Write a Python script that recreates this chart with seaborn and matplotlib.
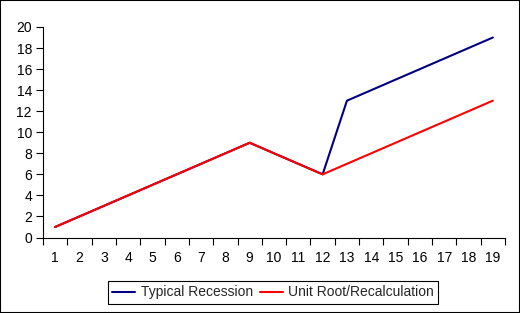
import numpy as np
import pandas as pd
import matplotlib
matplotlib.use("Agg")
import matplotlib.pyplot as plt
import seaborn as sns
from matplotlib.patches import Rectangle

# 데이터
periods = list(range(1, 20))
typical_recession = [1, 2, 3, 4, 5, 6, 7, 8, 9, 8, 7, 6, 13, 14, 15, 16, 17, 18, 19]
unit_root = [1, 2, 3, 4, 5, 6, 7, 8, 9, 8, 7, 6, 7, 8, 9, 10, 11, 12, 13]
series_names = ["Typical Recession", "Unit Root/Recalculation"]

df = pd.DataFrame({
    "period": periods * 2,
    "value": typical_recession + unit_root,
    "series": [series_names[0]] * len(periods) + [series_names[1]] * len(periods),
})

sns.set_style("white")
plt.rcParams["font.family"] = ["Liberation Sans", "DejaVu Sans"]

fig = plt.figure(figsize=(5.2, 3.13), dpi=100)
ax = fig.add_axes([43 / 520, 1 - 237.5 / 313, 462 / 520, 210.5 / 313])

sns.lineplot(data=df, x="period", y="value", hue="series",
             palette={series_names[0]: "#000080", series_names[1]: "#FF0000"},
             linewidth=1.5, ax=ax, legend=False)

ax.set_xlim(0.5, 19.5)
ax.set_ylim(0, 20)
ax.set_yticks(range(0, 21, 2))
ax.set_xticks(periods)
ax.set_xticks(np.arange(0.5, 20, 1), minor=True)
ax.set_xlabel("")
ax.set_ylabel("")

ax.tick_params(axis="x", which="major", length=0, pad=10, labelsize=10, colors="black")
ax.tick_params(axis="x", which="minor", length=5, width=0.8, color="black", bottom=True)
ax.tick_params(axis="y", length=5, width=0.8, pad=3, labelsize=10, colors="black", left=True)

for side in ["top", "right"]:
    ax.spines[side].set_visible(False)
for side in ["left", "bottom"]:
    ax.spines[side].set_color("black")
    ax.spines[side].set_linewidth(0.8)

# 범례
handles = [plt.Line2D([], [], color="#000080", lw=1.5),
           plt.Line2D([], [], color="#FF0000", lw=1.5)]
leg = fig.legend(handles, series_names, loc="center", bbox_to_anchor=(0.525, 0.0655),
                 ncol=2, fontsize=10, fancybox=False, framealpha=1,
                 handlelength=1.65, handletextpad=0.4, columnspacing=0.5,
                 borderpad=0.3, borderaxespad=0)
leg.get_frame().set_edgecolor("black")
leg.get_frame().set_linewidth(0.8)

# 바깥 테두리
fig.add_artist(Rectangle((0, 0), 1, 1, transform=fig.transFigure, fill=False,
                         edgecolor="black", linewidth=1.5))

fig.savefig("out.png", dpi=100)
